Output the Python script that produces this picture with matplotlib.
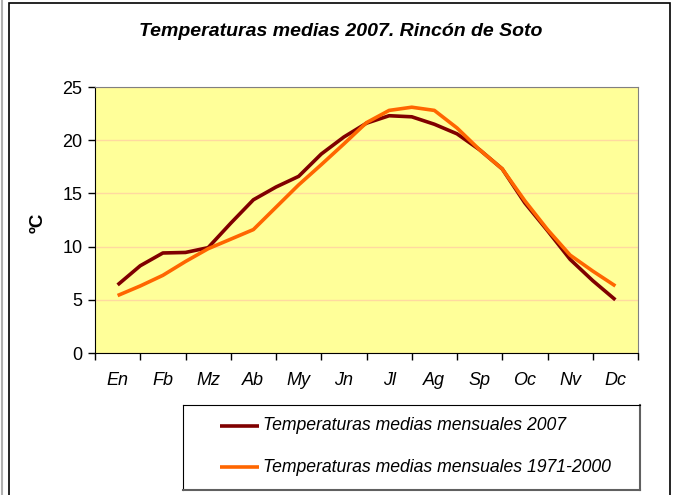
import matplotlib
matplotlib.use('Agg')
import matplotlib.pyplot as plt
from matplotlib.lines import Line2D
from matplotlib.patches import Rectangle

W, H = 675, 495

months = ['En', 'Fb', 'Mz', 'Ab', 'My', 'Jn', 'Jl', 'Ag', 'Sp', 'Oc', 'Nv', 'Dc']

# half-month readings, first value at the middle of January, last at the middle of December
temp_2007 = [6.4, 8.2, 9.4, 9.45, 9.9, 12.2, 14.4, 15.6, 16.6, 18.7, 20.3, 21.6,
             22.3, 22.2, 21.5, 20.6, 19.1, 17.3, 14.1, 11.5, 8.8, 6.8, 5.0]
temp_1971_2000 = [5.4, 6.3, 7.3, 8.6, 9.8, 10.7, 11.6, 13.7, 15.8, 17.7, 19.65, 21.65,
                  22.8, 23.1, 22.8, 21.15, 19.1, 17.3, 14.3, 11.6, 9.2, 7.7, 6.3]

label_2007 = 'Temperaturas medias mensuales 2007'
label_normal = 'Temperaturas medias mensuales 1971-2000'
title = 'Temperaturas medias 2007. Rincón de Soto'

dark_red = '#800000'
orange = '#FF6600'

plt.rcParams['font.family'] = ['Liberation Sans', 'DejaVu Sans']


def px_box(left, top, right, bottom):
    return [left / W, 1 - bottom / H, (right - left) / W, (bottom - top) / H]


fig = plt.figure(figsize=(W / 100, H / 100), dpi=100)

# outer chart frame
fig.patches.append(Rectangle((8.5 / W, -0.1), (670 - 8.5) / W, 1.1 - 3 / H, transform=fig.transFigure,
                             fill=False, edgecolor='black', lw=1.2))
fig.lines.append(Line2D([2 / W, 2 / W], [0, 1], transform=fig.transFigure, color='#B0B0B0', lw=1.5))

ax = fig.add_axes(px_box(95, 87, 638, 353))
ax.set_facecolor('#FFFF99')

x_2007 = [i / 2 for i in range(len(temp_2007))]
x_normal = [i / 2 for i in range(len(temp_1971_2000))]
ax.plot(x_2007, temp_2007, color=dark_red, lw=2.6, solid_capstyle='butt', solid_joinstyle='round', zorder=3)
ax.plot(x_normal, temp_1971_2000, color=orange, lw=2.6, solid_capstyle='butt', solid_joinstyle='round', zorder=4)

ax.set_xlim(-0.5, len(months) - 0.5)
ax.set_ylim(0, 25)
ax.set_yticks(range(0, 26, 5))
ax.yaxis.grid(True, color='#FFD9A0', lw=1)
ax.set_axisbelow(True)

ax.set_xticks(range(len(months)))
ax.set_xticklabels(months, fontstyle='italic', fontsize=13)
ax.set_xticks([i - 0.5 for i in range(len(months) + 1)], minor=True)
ax.tick_params(axis='x', which='major', length=0, pad=14)
ax.tick_params(axis='x', which='minor', length=5, width=1, direction='out')
ax.tick_params(axis='y', length=5, width=1, direction='out', labelsize=13, pad=4)

for side in ['top', 'right']:
    ax.spines[side].set_color('#808080')
for side in ['left', 'bottom']:
    ax.spines[side].set_color('black')

fig.text(38 / W, 1 - 223 / H, 'ºC', rotation=90, fontsize=13.5, fontweight='bold', ha='center', va='center')
fig.text(341 / W, 1 - 31 / H, title, fontsize=14, fontweight='bold', fontstyle='italic', ha='center', va='center')

# legend box
lax = fig.add_axes(px_box(183, 405, 640, 490))
lax.set_xlim(0, 457)
lax.set_ylim(85, 0)
lax.set_xticks([])
lax.set_yticks([])
lax.patch.set_facecolor('white')
for side in ['left', 'top']:
    lax.spines[side].set_color('black')
for side in ['right', 'bottom']:
    lax.spines[side].set_color('#606060')
    lax.spines[side].set_linewidth(1.5)

for row_y, color, label in [(21, dark_red, label_2007), (62, orange, label_normal)]:
    lax.plot([37, 76], [row_y, row_y], color=color, lw=2.6, solid_capstyle='butt')
    lax.text(80, row_y, label, fontsize=12.7, fontstyle='italic', ha='left', va='center')

fig.savefig('out.png', dpi=100)
plt.close(fig)
